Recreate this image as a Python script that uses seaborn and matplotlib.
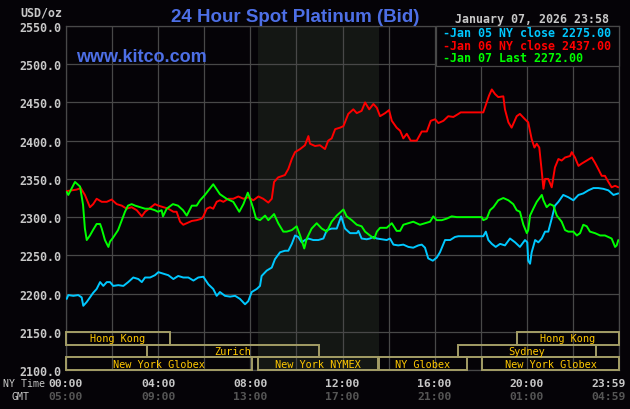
import pandas as pd
import matplotlib
matplotlib.use('Agg')
import matplotlib.pyplot as plt
import matplotlib.transforms as mtransforms
from matplotlib.patches import Rectangle
import seaborn as sns

# --- data: hours after midnight (NY time) and bid in USD/oz ---
jan05_hours = [0.03, 0.1, 0.32, 0.53, 0.68, 0.75, 0.9, 1.04, 1.18, 1.33, 1.48, 1.62, 1.77, 1.91,
               2.05, 2.27, 2.49, 2.7, 2.92, 3.14, 3.29, 3.43, 3.65, 3.86, 4.01, 4.22, 4.44, 4.66,
               4.87, 5.09, 5.31, 5.53, 5.74, 5.96, 6.18, 6.39, 6.54, 6.68, 6.9, 7.12, 7.34, 7.55,
               7.77, 7.91, 8.06, 8.28, 8.42, 8.49, 8.71, 8.93, 9.07, 9.29, 9.5, 9.65, 9.8, 9.94,
               10.08, 10.23, 10.37, 10.52, 10.73, 10.95, 11.17, 11.32, 11.53, 11.75, 11.94, 12.11,
               12.33, 12.62, 12.69, 12.83, 13.05, 13.19, 13.34, 13.49, 13.7, 13.92, 14.06, 14.21,
               14.42, 14.64, 14.86, 15.07, 15.29, 15.44, 15.58, 15.72, 15.92, 16.09, 16.23, 16.45,
               16.67, 16.88, 17.03, 18.11, 18.22, 18.33, 18.48, 18.65, 18.84, 19.05, 19.27, 19.49,
               19.7, 19.92, 20.02, 20.06, 20.14, 20.21, 20.36, 20.5, 20.65, 20.79, 20.93, 21.08,
               21.22, 21.37, 21.58, 21.8, 22.02, 22.24, 22.45, 22.67, 22.89, 23.1, 23.32, 23.54,
               23.76, 23.97]
jan05_price = [2193, 2198, 2197, 2198, 2195, 2184, 2189, 2195, 2201, 2206, 2215, 2210, 2215, 2215,
               2210, 2211, 2210, 2215, 2221, 2219, 2215, 2221, 2221, 2224, 2228, 2226, 2224, 2219,
               2223, 2221, 2221, 2217, 2221, 2222, 2212, 2206, 2197, 2202, 2197, 2196, 2197, 2193,
               2186, 2190, 2202, 2206, 2210, 2223, 2230, 2234, 2245, 2254, 2256, 2256, 2265, 2276,
               2274, 2267, 2270, 2272, 2270, 2270, 2272, 2283, 2285, 2285, 2301, 2285,
               2279, 2279, 2282, 2272, 2271, 2272, 2274, 2272, 2271, 2270, 2272, 2264,
               2263, 2264, 2261, 2260, 2263, 2264, 2260, 2246, 2243, 2247, 2254, 2270,
               2270, 2274, 2275, 2275, 2281, 2270, 2265, 2261, 2265, 2263, 2272, 2267,
               2261, 2270, 2267, 2243, 2239, 2254, 2270, 2267, 2272, 2281, 2281, 2298,
               2315, 2320, 2329, 2326, 2322, 2329, 2331, 2335, 2338, 2338, 2337, 2335,
               2329, 2331]

jan06_hours = [0.03, 0.25, 0.46, 0.64, 0.82, 1.04, 1.18, 1.33, 1.55, 1.77, 1.98, 2.2, 2.42, 2.63,
               2.85, 3.07, 3.29, 3.43, 3.65, 3.86, 4.01, 4.22, 4.44, 4.66, 4.8, 4.95, 5.09, 5.24,
               5.46, 5.67, 5.89, 5.96, 6.11, 6.25, 6.39, 6.54, 6.68, 6.83, 7.04, 7.26, 7.48, 7.7,
               7.91, 8.13, 8.35, 8.56, 8.78, 8.93, 9.03, 9.21, 9.5, 9.65, 9.8, 9.94, 10.16, 10.37,
               10.52, 10.59, 10.81, 11.02, 11.24, 11.38, 11.53, 11.68, 11.89, 12.04, 12.25, 12.47,
               12.62, 12.83, 12.98, 13.16, 13.34, 13.49, 13.63, 13.85, 14.02, 14.14, 14.35, 14.5,
               14.64, 14.79, 14.96, 15.22, 15.44, 15.66, 15.83, 16.02, 16.16, 16.38, 16.59, 16.81,
               17.03, 17.13, 18.11, 18.26, 18.36, 18.48, 18.62, 18.76, 18.98, 19.05, 19.2, 19.34,
               19.56, 19.7, 19.92, 20.06, 20.21, 20.33, 20.43, 20.54, 20.65, 20.72, 20.79, 20.93,
               21.08, 21.22, 21.37, 21.51, 21.66, 21.88, 21.95, 22.09, 22.24, 22.38, 22.6, 22.82,
               22.96, 23.1, 23.25, 23.39, 23.54, 23.68, 23.83, 23.97]
jan06_price = [2334, 2335, 2336, 2338, 2329, 2313, 2317, 2324, 2320, 2320, 2323, 2317, 2315, 2311,
               2313, 2309, 2301, 2307, 2312, 2317, 2315, 2313, 2311, 2307, 2307, 2294, 2290, 2292,
               2295, 2296, 2298, 2301, 2311, 2313, 2311, 2320, 2322, 2320, 2324, 2324, 2327, 2324,
               2326, 2322, 2327, 2324, 2319, 2324, 2346, 2352, 2355, 2363, 2376, 2385, 2389, 2394,
               2406, 2396, 2393, 2394, 2389, 2400, 2403, 2415, 2417, 2419, 2435, 2441,
               2436, 2439, 2450, 2441, 2448, 2443, 2432, 2436, 2440, 2426, 2417, 2413,
               2403, 2409, 2400, 2400, 2412, 2412, 2426, 2428, 2423, 2426, 2432, 2431,
               2435, 2437, 2437, 2450, 2459, 2467, 2461, 2457, 2458, 2441, 2424, 2417,
               2432, 2435, 2428, 2424, 2402, 2391, 2396, 2391, 2359, 2337, 2350, 2350,
               2339, 2365, 2376, 2374, 2378, 2380, 2385, 2378, 2367, 2370, 2374, 2378,
               2371, 2363, 2354, 2354, 2346, 2339, 2341, 2339]

jan07_hours = [0.03, 0.1, 0.39, 0.61, 0.74, 0.82, 0.9, 1.04, 1.17, 1.33, 1.48, 1.55, 1.69, 1.84,
               1.91, 2.04, 2.26, 2.42, 2.56, 2.69, 2.85, 3.0, 3.21, 3.43, 3.65, 3.86, 3.99, 4.15,
               4.21, 4.37, 4.64, 4.86, 5.08, 5.24, 5.46, 5.67, 5.82, 6.03, 6.39, 6.68, 6.97, 7.26,
               7.52, 7.7, 7.89, 7.99, 8.13, 8.25, 8.42, 8.64, 8.78, 9.03, 9.21, 9.43, 9.58, 9.8,
               10.01, 10.16, 10.34, 10.45, 10.66, 10.88, 11.1, 11.32, 11.53, 11.75, 12.04, 12.18,
               12.4, 12.62, 12.83, 12.98, 13.19, 13.38, 13.49, 13.63, 13.92, 14.14, 14.35, 14.5,
               14.64, 14.86, 15.07, 15.36, 15.58, 15.8, 15.94, 16.09, 16.31, 16.52, 16.74, 16.96,
               18.04, 18.11, 18.26, 18.4, 18.55, 18.76, 18.98, 19.2, 19.41, 19.56, 19.7, 19.85,
               20.0, 20.06, 20.14, 20.28, 20.43, 20.65, 20.72, 20.86, 21.0, 21.15, 21.3, 21.51,
               21.66, 21.8, 22.02, 22.17, 22.31, 22.45, 22.6, 22.74, 22.96, 23.18, 23.39, 23.54,
               23.68, 23.83, 23.9, 23.97]
jan07_price = [2333, 2329, 2346, 2340, 2316, 2285, 2270, 2276, 2283, 2291, 2291, 2285, 2270, 2261,
               2268, 2273, 2283, 2296, 2307, 2315, 2317, 2315, 2313, 2311, 2311, 2309, 2307, 2309,
               2301, 2311, 2317, 2315, 2309, 2302, 2315, 2315, 2322, 2329, 2343, 2330, 2324, 2320,
               2307, 2317, 2332, 2324, 2311, 2298, 2296, 2302, 2296, 2304, 2292, 2281, 2281, 2283,
               2288, 2276, 2259, 2272, 2285, 2292, 2285, 2281, 2294, 2302, 2310, 2301,
               2296, 2290, 2288, 2281, 2276, 2272, 2281, 2286, 2286, 2292, 2282, 2282,
               2290, 2292, 2294, 2290, 2292, 2294, 2301, 2296, 2296, 2298, 2301, 2300,
               2300, 2296, 2298, 2309, 2313, 2322, 2325, 2322, 2317, 2309, 2307, 2290,
               2279, 2283, 2302, 2311, 2320, 2329, 2322, 2313, 2317, 2315, 2302, 2294,
               2283, 2281, 2281, 2276, 2279, 2290, 2288, 2281, 2279, 2276, 2276, 2274,
               2272, 2261, 2263, 2270]

series_names = ['Jan 05 NY close', 'Jan 06 NY close', 'Jan 07 Last']
series_values = [2275.00, 2437.00, 2272.00]
series_colors = ['#00c8ff', '#ff0000', '#00ff00']

ny_ticks = [0, 4, 8, 12, 16, 20, 24]
ny_labels = ['00:00', '04:00', '08:00', '12:00', '16:00', '20:00', '23:59']
gmt_labels = ['05:00', '09:00', '13:00', '17:00', '21:00', '01:00', '04:59']

# trading sessions shown in the strip under the lines
market_names = ['Hong Kong', 'Zurich', 'New York Globex', 'New York NYMEX', 'NY Globex',
                'Sydney', 'Hong Kong', 'New York Globex']
market_start = [0.0, 3.5, 0.0, 8.33, 13.58, 17.0, 19.57, 18.06]
market_end = [4.5, 11.0, 8.07, 13.55, 17.4, 23.0, 24.0, 24.0]
market_row = [0, 1, 2, 2, 2, 1, 0, 2]
nymex_open, nymex_close = 8.33, 13.58

BG = '#050307'
GRID = '#484848'
LABEL = '#c8c8c8'
BLUE = '#4d6fe6'
MONO = 'DejaVu Sans Mono'

sns.set_style('dark', {'axes.facecolor': BG, 'figure.facecolor': BG})

df = pd.concat([
    pd.DataFrame({'hour': jan05_hours, 'price': jan05_price, 'series': series_names[0]}),
    pd.DataFrame({'hour': jan06_hours, 'price': jan06_price, 'series': series_names[1]}),
    pd.DataFrame({'hour': jan07_hours, 'price': jan07_price, 'series': series_names[2]}),
])

fig = plt.figure(figsize=(6.3, 4.1), dpi=100, facecolor=BG)
ax = fig.add_axes([66 / 630, 39 / 410, 553 / 630, 344 / 410])
ax.set_facecolor(BG)

ax.axvspan(nymex_open, nymex_close, color='#141714', zorder=0, lw=0)

sns.lineplot(data=df, x='hour', y='price', hue='series', palette=series_colors,
             estimator=None, sort=False, legend=False, lw=1.4, ax=ax, zorder=3)

ax.set_xlim(0, 24)
ax.set_ylim(2100, 2550)
ax.set_xticks(range(0, 25, 2))
ax.set_xticklabels([])
ax.set_yticks(range(2100, 2551, 50))
ax.set_yticklabels([f'{v:.1f}' for v in range(2100, 2551, 50)])
ax.grid(True, color=GRID, lw=0.9, zorder=1)
ax.set_axisbelow(True)
ax.tick_params(length=0, pad=3, labelcolor=LABEL)
for lab in ax.get_yticklabels():
    lab.set_fontfamily(MONO)
    lab.set_fontweight('bold')
    lab.set_fontsize(8.4)
for sp in ax.spines.values():
    sp.set_color(GRID)
    sp.set_linewidth(0.9)
ax.set_xlabel('')
ax.set_ylabel('')

# session boxes
row_h = 50 / 3
for name, s, e, r in zip(market_names, market_start, market_end, market_row):
    top = 2150 - r * row_h
    ax.add_patch(Rectangle((s, top - row_h), e - s, row_h, fill=False, ec='#a39d66',
                           lw=1.4, zorder=4, clip_on=False))
    ax.text((s + e) / 2, top - row_h / 2, name, ha='center', va='center', color='#ffc800',
            fontsize=7.4, family=MONO, zorder=5)

# time labels under the axis
tr = mtransforms.blended_transform_factory(ax.transData, fig.transFigure)
for t, ny, gmt in zip(ny_ticks, ny_labels, gmt_labels):
    x = t if t < 24 else 24.3
    ha = 'center' if t < 24 else 'right'
    ax.text(x, 1 - 384 / 410, ny, transform=tr, ha=ha, va='center', color=LABEL,
            fontsize=8.2, family=MONO, fontweight='bold')
    ax.text(x, 1 - 397 / 410, gmt, transform=tr, ha=ha, va='center', color='#555555',
            fontsize=8.2, family=MONO, fontweight='bold')
fig.text(45 / 630, 1 - 384 / 410, 'NY Time', ha='right', va='center', color=LABEL,
         fontsize=7.1, family=MONO)
fig.text(20 / 630, 1 - 397 / 410, 'GMT', ha='center', va='center', color=LABEL,
         fontsize=7.1, family=MONO)

# titles and headers
fig.text(295 / 630, 1 - 22 / 410, '24 Hour Spot Platinum (Bid)', ha='center', va='baseline',
         color=BLUE, fontsize=13.5, family='Liberation Sans', fontweight='bold')
fig.text(76 / 630, 1 - 62 / 410, 'www.kitco.com', ha='left', va='baseline',
         color=BLUE, fontsize=13, family='Liberation Sans', fontweight='bold')
fig.text(62 / 630, 1 - 13 / 410, 'USD/oz', ha='right', va='center', color=LABEL,
         fontsize=8.4, family=MONO, fontweight='bold')
fig.text(455 / 630, 1 - 20 / 410, 'January 07, 2026 23:58', ha='left', va='center',
         color=LABEL, fontsize=8.4, family=MONO, fontweight='bold')

# legend box
fig.add_artist(Rectangle((436 / 630, 1 - 67 / 410), 183 / 630, 40 / 410, transform=fig.transFigure,
                         fc=BG, ec=GRID, lw=0.9, zorder=6))
for i, (name, val, col) in enumerate(zip(series_names, series_values, series_colors)):
    fig.text(443 / 630, 1 - (33.5 + 12.7 * i) / 410, f'-{name} {val:.2f}', ha='left', va='center',
             color=col, fontsize=8.4, family=MONO, fontweight='bold', zorder=7)

fig.savefig('out.png', dpi=100, facecolor=BG)
